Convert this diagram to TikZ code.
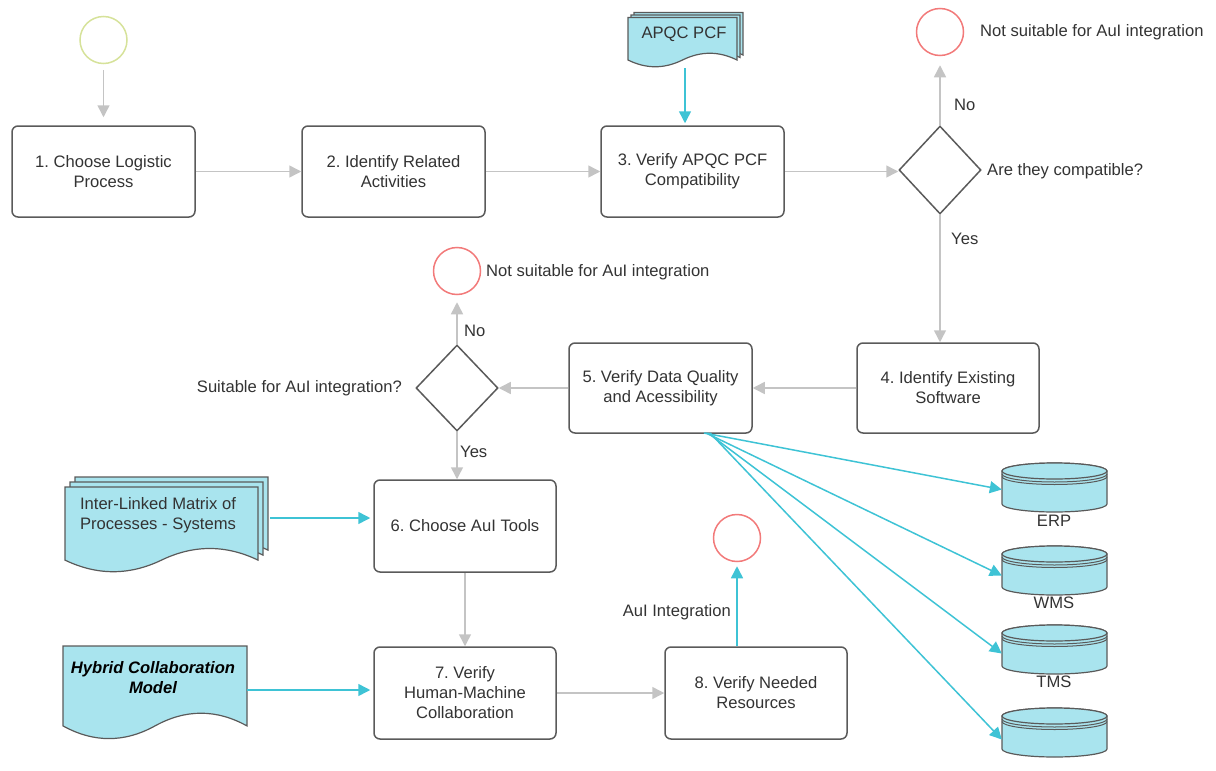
\documentclass[tikz,border=0pt]{standalone}
\usepackage{fontspec}
\setmainfont{Liberation Sans}
\usetikzlibrary{arrows.meta,shapes.geometric}
\frenchspacing
\definecolor{txt}{HTML}{333333}
\definecolor{edgec}{HTML}{C4C4C4}
\definecolor{bord}{HTML}{5A5A5A}
\definecolor{cyanfill}{HTML}{A9E4EE}
\definecolor{cyanline}{HTML}{3EC3D5}
\definecolor{redc}{HTML}{F27A7A}
\definecolor{startc}{HTML}{D6E29A}
\newcommand\docpage[5]{%
 \pgfmathsetmacro\mydw{#4-#2}%
 \pgfmathsetmacro\mydy{0.3*(#5-#3)}%
 \path[#1] (#2,#3) -- (#4,#3) -- (#4,#5-\mydy/2)
  .. controls (#4-\mydw/6,#5-1.1*\mydy) and (#2+2*\mydw/3,#5-1.1*\mydy) .. (#2+\mydw/2,#5-\mydy/2)
  .. controls (#2+\mydw/3,#5+0.1*\mydy) and (#2+\mydw/6,#5+0.1*\mydy) .. (#2,#5-\mydy/2) -- cycle;}
\newcommand\dbcyl[3]{%
 \pgfmathsetmacro\myyt{#2+8}%
 \pgfmathsetmacro\myyb{#3-8}%
 \draw[dbstyle] (#1-52.5,\myyt) -- (#1-52.5,\myyb) arc[start angle=180,end angle=360,x radius=52.5pt,y radius=8pt]
   -- (#1+52.5,\myyt) arc[start angle=0,end angle=180,x radius=52.5pt,y radius=8pt] -- cycle;
 \draw[dbstyle] (#1,\myyt) ellipse[x radius=52.5pt,y radius=8pt];
 \draw[dbline] (#1-52.5,\myyt+3) arc[start angle=180,end angle=360,x radius=52.5pt,y radius=8pt];
 \draw[dbline] (#1-52.5,\myyt+5.5) arc[start angle=180,end angle=360,x radius=52.5pt,y radius=8pt];}
\begin{document}
\begin{tikzpicture}[x=1pt,y=-1pt,
  font=\fontsize{16.6}{20}\selectfont, text=txt,
  box/.style={draw=bord, line width=1.5pt, rounded corners=6pt, align=center, inner sep=0pt,
    minimum width=183pt, minimum height=91pt},
  dec/.style={diamond, draw=bord, line width=1.5pt, inner sep=0pt, minimum width=82pt, minimum height=88pt},
  endc/.style={circle, draw=redc, line width=1.5pt, inner sep=0pt, minimum size=47pt},
  startcirc/.style={circle, draw=startc, line width=1.5pt, inner sep=0pt, minimum size=47pt},
  flow/.style={draw=edgec, line width=1.5pt, -{Triangle[length=12pt,width=12pt]}},
  cflow/.style={draw=cyanline, line width=1.5pt, -{Triangle[length=12pt,width=12pt]}},
  docst/.style={fill=cyanfill, draw=bord, line width=1.2pt},
  dbstyle/.style={fill=cyanfill, draw=bord, line width=1.2pt},
  dbline/.style={draw=bord, line width=1pt},
  lbl/.style={inner sep=0pt},
  ]
\useasboundingbox (0,0) rectangle (1216,771);

% documents
\docpage{docst}{634}{12.5}{743}{62.5}
\docpage{docst}{631}{15}{740}{65}
\docpage{docst}{628}{17.5}{737}{67.5}
\node[lbl] (apqc) at (684,34) {APQC PCF};
\coordinate (apqcout) at (685,68);

\docpage{docst}{75}{477}{268}{563}
\docpage{docst}{70}{482}{263}{568}
\docpage{docst}{65}{487}{258}{573}
\node[lbl, align=center] (ilm) at (158,515) {Inter-Linked Matrix of\\Processes - Systems};
\coordinate (ilmout) at (270,518);

\docpage{docst}{63}{646}{247}{740}
\node[lbl, align=center, text=black, font=\fontsize{16.6}{20}\selectfont\bfseries\itshape] (hyb) at (153,678) {Hybrid Collaboration\\Model};
\coordinate (hybout) at (247,690);

% databases
\dbcyl{1054.5}{463}{512}
\dbcyl{1054.5}{546}{595}
\dbcyl{1054.5}{625}{674}
\dbcyl{1054.5}{708}{757}
\node[inner sep=0pt, minimum width=105pt, minimum height=49pt] (erp) at (1054.5,487.5) {};
\node[inner sep=0pt, minimum width=105pt, minimum height=49pt] (wms) at (1054.5,570.5) {};
\node[inner sep=0pt, minimum width=105pt, minimum height=49pt] (tms) at (1054.5,649.5) {};
\node[inner sep=0pt, minimum width=105pt, minimum height=49pt] (db4) at (1054.5,732.5) {};
\node[lbl] (erpl) at (1054,521) {ERP};
\node[lbl] (wmsl) at (1054,603) {WMS};
\node[lbl] (tmsl) at (1054,682) {TMS};

% circles
\node[startcirc] (c0) at (103.5,40) {};
\node[endc] (c1) at (940,32) {};
\node[endc] (c2) at (457,271) {};
\node[endc] (c3) at (737,538) {};

% process boxes
\node[box] (b1) at (103.5,171.5) {1. Choose Logistic\\Process};
\node[box] (b2) at (393.5,171.5) {2. Identify Related\\Activities};
\node[box] (b3) at (692.5,171.5) {3. Verify APQC PCF\\Compatibility};
\node[box, minimum width=182pt, minimum height=90pt] (b4) at (948,388) {4. Identify Existing\\Software};
\node[box, minimum width=183pt, minimum height=90pt] (b5) at (660.5,388) {5. Verify Data Quality\\and Acessibility};
\node[box, minimum width=182pt, minimum height=92pt] (b6) at (465,526) {6. Choose AuI Tools};
\node[box, minimum width=182pt, minimum height=92pt] (b7) at (465,693) {7. Verify\\Human-Machine\\Collaboration};
\node[box, minimum width=182pt, minimum height=92pt] (b8) at (756,693) {8. Verify Needed\\Resources};

% decisions
\node[dec] (d1) at (940,170) {};
\node[dec, minimum height=86pt] (d2) at (457,388) {};

% labels
\node[lbl, anchor=west] (t1) at (980,32) {Not suitable for AuI integration};
\node[lbl, anchor=west] (t2) at (954,105) {No};
\node[lbl, anchor=west] (t3) at (987,171) {Are they compatible?};
\node[lbl, anchor=west] (t4) at (951,239) {Yes};
\node[lbl, anchor=west] (t5) at (486,272) {Not suitable for AuI integration};
\node[lbl, anchor=west] (t6) at (464,331) {No};
\node[lbl, anchor=east] (t7) at (402,388) {Suitable for AuI integration?};
\node[lbl, anchor=west] (t8) at (460,452) {Yes};
\node[lbl, anchor=east] (t9) at (731,612) {AuI Integration};

% gray flow
\draw[flow, shorten <=6pt, shorten >=8pt] (c0.south) -- (b1.north);
\draw[flow] (b1.east) -- (b2.west);
\draw[flow] (b2.east) -- (b3.west);
\draw[flow] (b3.east) -- (b3.east -| d1.west);
\draw[flow, shorten >=9pt] (d1.north) -- (c1.south);
\draw[flow] (d1.south) -- (d1.south |- b4.north);
\draw[flow] (b4.west) -- (b5.east);
\draw[flow] (b5.west) -- (d2.east);
\draw[flow, shorten >=7pt] (d2.north) -- (c2.south);
\draw[flow] (d2.south) -- (d2.south |- b6.north);
\draw[flow] (b6.south) -- (b7.north);
\draw[flow] (b7.east) -- (b8.west);

% cyan flow
\draw[cflow, shorten >=2pt] (apqcout) -- (apqcout |- b3.north);
\draw[cflow, shorten >=3pt] (ilmout) -- (ilmout -| b6.west);
\draw[cflow, shorten >=3pt] (hybout) -- (hybout -| b7.west);
\draw[cflow, shorten >=4pt] (b8.north -| c3) -- (c3.south);
\coordinate (fan1) at (704,433);
\coordinate (fan2) at (706,433);
\coordinate (fan3) at (708,433);
\coordinate (fan4) at (710,433);
\draw[cflow] (fan1) -- ([yshift=-2pt]erp.west);
\draw[cflow] (fan2) -- ([yshift=-5pt]wms.west);
\draw[cflow] (fan3) -- ([yshift=-4pt]tms.west);
\draw[cflow] (fan4) -- ([yshift=-7pt]db4.west);
\end{tikzpicture}
\end{document}
